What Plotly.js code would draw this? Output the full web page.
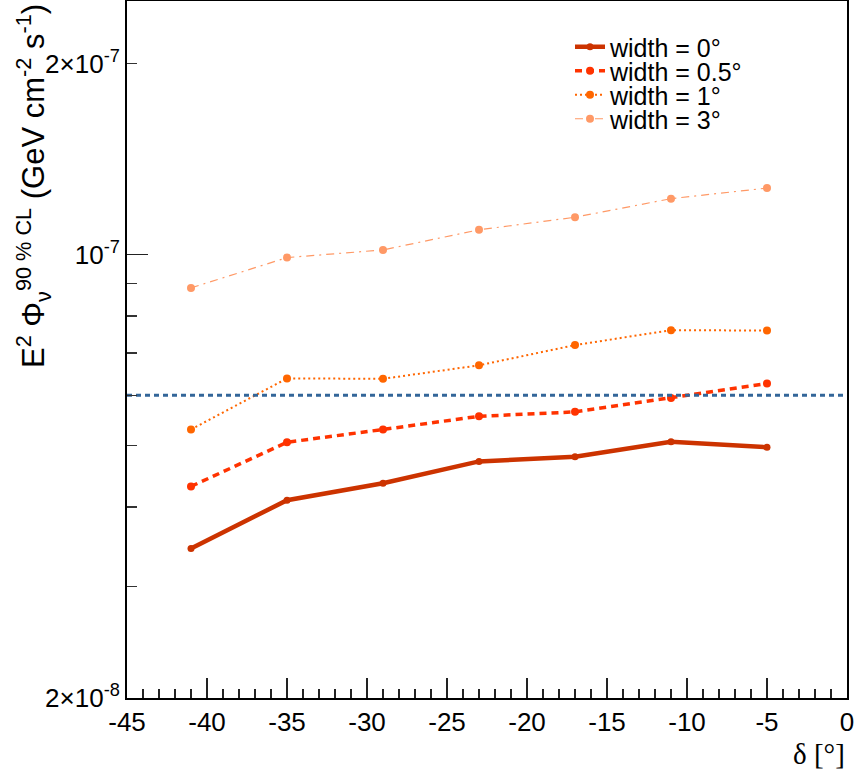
<!DOCTYPE html>
<html>
<head>
<meta charset="utf-8">
<script src="https://cdn.plot.ly/plotly-3.0.1.min.js"></script>
<style>html,body{margin:0;padding:0;background:#fff;}#chart{width:855px;height:776px;}</style>
</head>
<body>
<div id="chart"></div>
<script>
// ---- data ----
const declination = [-41, -35, -29, -23, -17, -11, -5];
const fluxWidth0   = [3.44e-8, 4.10e-8, 4.36e-8, 4.72e-8, 4.80e-8, 5.07e-8, 4.97e-8];
const fluxWidth05  = [4.31e-8, 5.06e-8, 5.30e-8, 5.56e-8, 5.65e-8, 5.94e-8, 6.26e-8];
const fluxWidth1   = [5.30e-8, 6.38e-8, 6.37e-8, 6.69e-8, 7.20e-8, 7.60e-8, 7.59e-8];
const fluxWidth3   = [8.86e-8, 9.89e-8, 1.017e-7, 1.094e-7, 1.145e-7, 1.225e-7, 1.273e-7];
const seriesNames  = ['width = 0°', 'width = 0.5°', 'width = 1°', 'width = 3°'];
const limitX = [-45, 0];
const limitY = [6.0e-8, 6.0e-8];

const xTickVals = [-45, -40, -35, -30, -25, -20, -15, -10, -5, 0];
const xTickText = ['-45', '-40', '-35', '-30', '-25', '-20', '-15', '-10', '-5', '0'];
const yTickVals = [2e-8, 1e-7, 2e-7];
const yTickText = ['2×10<sup>-8</sup>', '10<sup>-7</sup>', '2×10<sup>-7</sup>'];
const yMinorVals = [3e-8, 4e-8, 5e-8, 6e-8, 7e-8, 8e-8, 9e-8];
const yDecadeVals = [1e-7];
const yRange = [2e-8, 2.51e-7];
const xRange = [-45, 0];

const FONT = 'Liberation Sans, Arial, Helvetica, sans-serif';

function series(y, name, color, width, dash, msize, legendId) {
  return {
    x: declination, y: y, name: name, type: 'scatter', mode: 'lines+markers',
    line: {color: color, width: width, dash: dash},
    marker: {color: color, size: msize},
    legend: legendId, cliponaxis: false
  };
}

const traces = [
  {x: limitX, y: limitY, type: 'scatter', mode: 'lines', yaxis: 'y2',
   line: {color: '#336699', width: 3, dash: '5px,4px'}, showlegend: false, hoverinfo: 'skip'},
  series(fluxWidth0,  seriesNames[0], '#cc3300', 4.5, 'solid', 7, 'legend'),
  series(fluxWidth05, seriesNames[1], '#ff3300', 3.5, '7px,5px', 8, 'legend2'),
  series(fluxWidth1,  seriesNames[2], '#ff6600', 2, '2px,3px', 8, 'legend3'),
  series(fluxWidth3,  seriesNames[3], '#ff9966', 1.2, '8px,5px,2px,5px', 8, 'legend4')
];

const legendRowsPx = [47, 71, 95, 119];
const plotTop = 1, plotBottom = 698, plotLeft = 127, plotRight = 847;
function py(p) { return (plotBottom - p) / (plotBottom - plotTop); }
function px(p) { return (p - plotLeft) / (plotRight - plotLeft); }
function legendAt(row) {
  return {x: px(570), y: py(legendRowsPx[row]), xanchor: 'left', yanchor: 'middle',
          bgcolor: 'rgba(0,0,0,0)', borderwidth: 0,
          font: {family: FONT, size: 25, color: '#000'}};
}

const layout = {
  width: 855, height: 776,
  margin: {l: 127, r: 8, t: 1, b: 78},
  paper_bgcolor: '#fff', plot_bgcolor: '#fff',
  showlegend: true,
  legend: legendAt(0), legend2: legendAt(1), legend3: legendAt(2), legend4: legendAt(3),
  xaxis: {
    range: xRange, showgrid: false, zeroline: false,
    showline: true, linecolor: '#000', linewidth: 2, mirror: true,
    tickmode: 'array', tickvals: xTickVals, ticktext: xTickText,
    ticks: 'inside', ticklen: 20, tickwidth: 1.5, tickcolor: '#222',
    minor: {dtick: 1, ticks: 'inside', ticklen: 9, tickwidth: 1.5, tickcolor: '#222', showgrid: false},
    tickfont: {family: FONT, size: 26, color: '#000'}
  },
  yaxis: {
    type: 'log', range: [Math.log10(yRange[0]), Math.log10(yRange[1])],
    showgrid: false, zeroline: false,
    showline: true, linecolor: '#000', linewidth: 2, mirror: true,
    tickmode: 'array', tickvals: yTickVals, ticktext: yTickText,
    ticks: 'inside', ticklen: 10, tickwidth: 1.5, tickcolor: '#333',
    minor: {tickmode: 'array', tickvals: yMinorVals, ticks: 'inside', ticklen: 10, tickwidth: 1.5, tickcolor: '#333', showgrid: false},
    tickfont: {family: FONT, size: 26, color: '#000'}
  },
  yaxis2: {
    type: 'log', range: [Math.log10(yRange[0]), Math.log10(yRange[1])],
    overlaying: 'y', side: 'left', showgrid: false, zeroline: false, showline: false,
    tickmode: 'array', tickvals: yDecadeVals, showticklabels: false,
    ticks: 'inside', ticklen: 21, tickwidth: 1.5, tickcolor: '#222'
  },
  annotations: [
    {text: 'E<sup>2</sup> Φ<sub>ν</sub><sup>90 % CL</sup> (GeV cm<sup>-2</sup> s<sup>-1</sup>)',
     textangle: -90, xref: 'paper', yref: 'paper', x: px(33), y: 1, xanchor: 'center', yanchor: 'top',
     yshift: -1, showarrow: false, font: {family: FONT, size: 31, color: '#000'}},
    {text: 'δ [°]', xref: 'paper', yref: 'paper', x: 1, y: py(754), xanchor: 'right', yanchor: 'middle',
     showarrow: false, font: {family: 'Liberation Serif, Times New Roman, serif', size: 29, color: '#000'}}
  ]
};

Plotly.newPlot('chart', traces, layout, {displayModeBar: false, staticPlot: true});
</script>
</body>
</html>
